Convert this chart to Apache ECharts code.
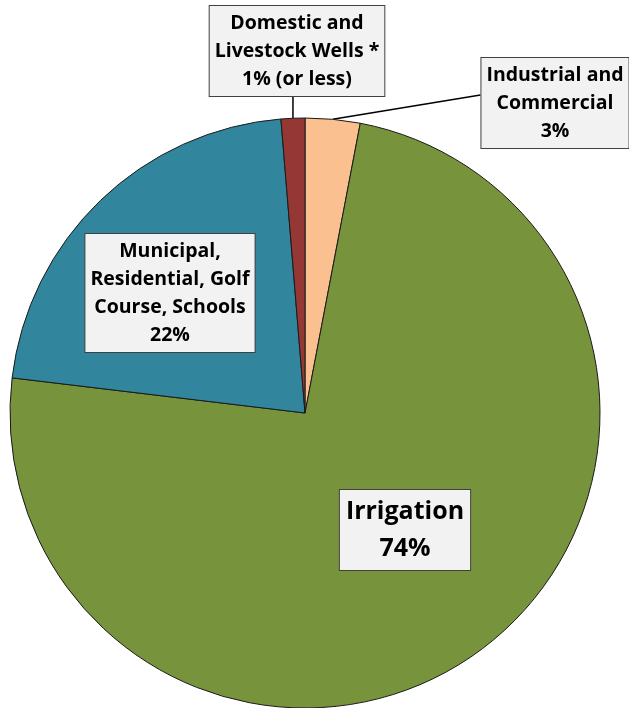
<!DOCTYPE html>
<html>
<head>
<meta charset="utf-8">
<script src="https://cdn.jsdelivr.net/npm/echarts@6/dist/echarts.min.js"></script>
<style>html,body{margin:0;padding:0;background:#fff}#c{width:629px;height:708px}</style>
</head>
<body>
<div id="c"></div>
<script>
const categories = ['Industrial and\nCommercial', 'Irrigation', 'Municipal,\nResidential, Golf\nCourse, Schools', 'Domestic and\nLivestock Wells *'];
const values = [3.0, 73.9, 21.8, 1.3];
const percentLabels = ['3%', '74%', '22%', '1% (or less)'];
const colors = ['#FAC090', '#77933C', '#31859C', '#953735'];

const chart = echarts.init(document.getElementById('c'));
const font = '"Open Sans", "Noto Sans", sans-serif';
const baseLabel = {
  backgroundColor: '#f2f2f2', borderColor: '#404040', borderWidth: 1,
  color: '#000', fontFamily: font, fontWeight: 'bold', fontSize: 19.5,
  lineHeight: 28, align: 'center', verticalAlign: 'middle', padding: [3, 5, 3, 5]
};
// label box centres (layout only)
const labelPos = [
  {x: 555, y: 103},
  {x: 405, y: 530},
  {x: 170, y: 293},
  {x: 297, y: 51}
];
const data = categories.map((c, i) => ({
  name: c, value: values[i],
  itemStyle: {color: colors[i]},
  label: i === 1 ? {fontSize: 25, lineHeight: 37, padding: [3, 6, 3, 6]} : {},
  labelLine: {show: i === 0 || i === 3}
}));
chart.setOption({
  animation: false,
  series: [{
    type: 'pie',
    center: [305, 413],
    radius: 295,
    startAngle: 90,
    clockwise: true,
    avoidLabelOverlap: false,
    data: data,
    itemStyle: {borderColor: '#1a1a1a', borderWidth: 1},
    label: Object.assign({show: true, position: 'outside',
      formatter: p => p.name + '\n' + percentLabels[p.dataIndex]}, baseLabel),
    labelLine: {show: true, length: 10, length2: 10, lineStyle: {color: '#000', width: 1.5}},
    labelLayout: function (p) {
      const pos = labelPos[p.dataIndex];
      const r = p.labelRect;
      const res = {x: pos.x, y: pos.y, align: 'center', verticalAlign: 'middle'};
      const s = p.labelLinePoints ? p.labelLinePoints[0] : null;
      if (s && p.dataIndex === 3) {
        res.labelLinePoints = [[s[0], s[1]], [s[0], pos.y + r.height / 2]];
      } else if (s && p.dataIndex === 0) {
        res.labelLinePoints = [[s[0], s[1]], [pos.x - r.width / 2, pos.y - 8]];
      }
      return res;
    }
  }]
});
</script>
</body>
</html>
